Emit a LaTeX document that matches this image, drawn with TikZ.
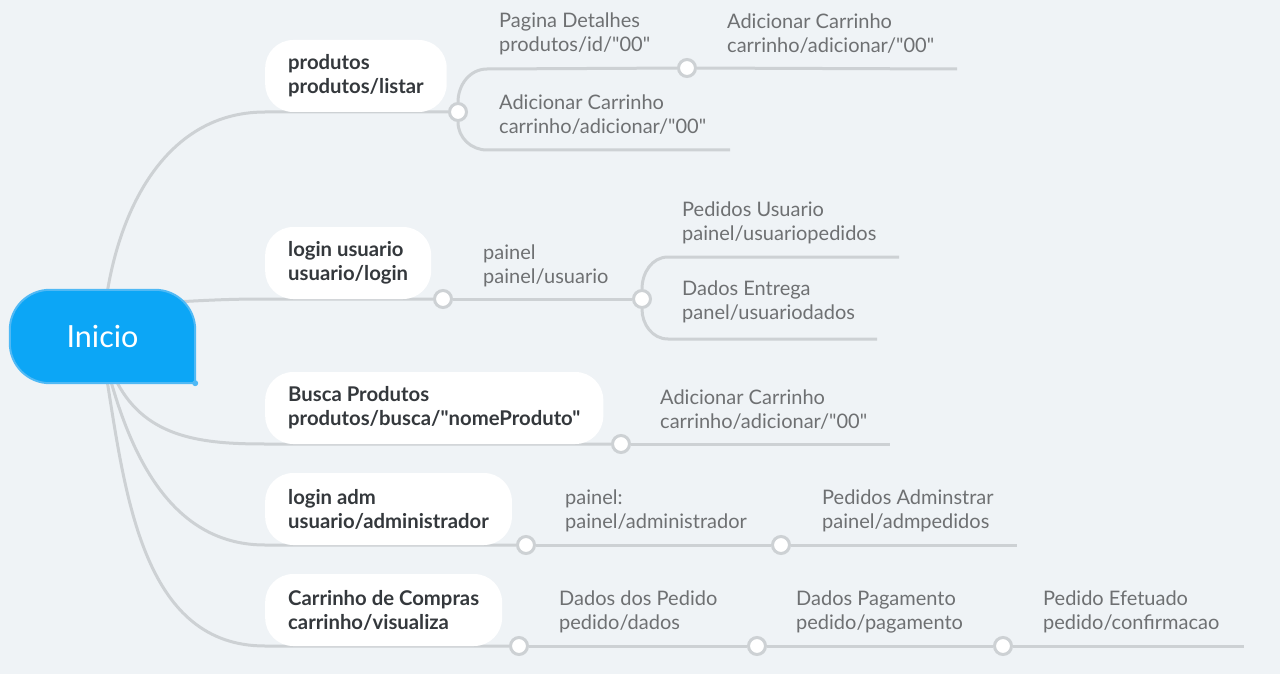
\documentclass[tikz,border=0pt]{standalone}
\usepackage{fontspec}
\setmainfont{Lato}[Ligatures=TeXOff]
\usetikzlibrary{positioning,backgrounds}
\definecolor{bgcol}{RGB}{239,243,246}
\definecolor{linecol}{RGB}{205,209,212}
\definecolor{leafcol}{RGB}{110,112,114}
\definecolor{maincol}{RGB}{52,56,60}
\definecolor{rootcol}{RGB}{12,166,246}
\definecolor{rootedge}{RGB}{80,185,245}
\tikzstyle{root}=[minimum width=185pt,minimum height=93pt,inner sep=0pt,text=white,font=\fontsize{30.5}{34}\selectfont]
\tikzstyle{mainbox}=[fill=white,rounded corners=28pt,minimum height=72pt,inner xsep=23pt,inner ysep=0pt,align=left,anchor=west,text=maincol,font=\fontsize{20.3}{24}\selectfont\bfseries]
\tikzstyle{leaf}=[inner sep=0pt,align=left,anchor=west,text=leafcol,font=\fontsize{20}{24}\selectfont]
\tikzstyle{knob}=[circle,fill=white,draw=linecol,line width=3pt,minimum size=17pt,inner sep=0pt]
\tikzstyle{branch}=[draw=linecol,line width=3pt]

\begin{document}
\begin{tikzpicture}[x=1pt,y=-1pt]
\useasboundingbox (0,0) rectangle (1280,674);

% root
\node[root] (inicio) at (102.5,336.5) {Inicio};

% main topics
\foreach \pos/\name/\txt in {{(265,76)/b1/{produtos\\produtos/listar}}, {(265,263)/b2/{login usuario\\usuario/login}}, {(265,408)/b3/{Busca Produtos\\produtos/busca/"nomeProduto"}}, {(265,509)/b4/{login adm\\usuario/administrador}}, {(265,610)/b5/{Carrinho de Compras\\carrinho/visualiza}}}
    \node[mainbox] (\name) at \pos {\txt};

% knobs
\foreach \pos/\name in {{(458,112)/c1}, {(687,68)/c11}, {(443,299)/c2}, {(642,299)/c21}, {(621,444)/c3}, {(526,545)/c4}, {(781,545)/c41}, {(519,646)/c5}, {(757,646)/c51}, {(1003,646)/c52}}
    \node[knob] (\name) at \pos {};

% subtopics
\foreach \pos/\name/\txt in {{(499,34)/t11/{Pagina Detalhes\\produtos/id/"00"}}, {(727,34)/t12/{Adicionar Carrinho\\carrinho/adicionar/"00"}}, {(499,115)/t13/{Adicionar Carrinho\\carrinho/adicionar/"00"}}, {(483,266)/t21/{painel\\painel/usuario}}, {(682,223)/t22/{Pedidos Usuario\\painel/usuariopedidos}}, {(682,302)/t23/{Dados Entrega\\panel/usuariodados}}, {(660,410)/t31/{Adicionar Carrinho\\carrinho/adicionar/"00"}}, {(565,511)/t41/{painel:\\painel/administrador}}, {(822,511)/t42/{Pedidos Adminstrar\\painel/admpedidos}}, {(559,612)/t51/{Dados dos Pedido\\pedido/dados}}, {(796,612)/t52/{Dados Pagamento\\pedido/pagamento}}, {(1043,612)/t53/{Pedido Efetuado\\pedido/confirmacao}}}
    \node[leaf] (\name) at \pos {\txt};

% line ends
\coordinate (f1u) at (487,69);
\coordinate (e11) at (957,69);
\coordinate (f1d) at (487,150);
\coordinate (e12) at (730,150);
\coordinate (f2u) at (668,257);
\coordinate (e21) at (899,257);
\coordinate (f2d) at (668,339);
\coordinate (e22) at (877,339);
\coordinate (e31) at (890,444);
\coordinate (e41) at (1017,545);
\coordinate (e51) at (1244,646);

\begin{scope}[on background layer]
  \fill[bgcol] (0,0) rectangle (1280,674);
  % from the root
  \path[branch] (inicio.center) to[out=87,in=180] (b1.west |- c1) -- (c1);
  \path[branch] ([xshift=-30pt,yshift=34pt]inicio.east) to[out=3,in=180] (b2.west |- c2) -- (c2);
  \path[branch] ([xshift=15pt]inicio.south) to[out=-62,in=180] (b3.west |- c3) -- (c3);
  \path[branch] ([xshift=9pt]inicio.south) to[out=-74,in=180] (b4.west |- c4) -- (c4);
  \path[branch] ([xshift=5pt]inicio.south) to[out=-81,in=180] (b5.west |- c5) -- (c5);
  % further out
  \path[branch] (c1) to[out=90,in=180] (f1u) -- (c11) -- (e11);
  \path[branch] (c1) to[out=-90,in=180] (f1d) -- (e12);
  \path[branch] (c2) -- (c21);
  \path[branch] (c21) to[out=90,in=180] (f2u) -- (e21);
  \path[branch] (c21) to[out=-90,in=180] (f2d) -- (e22);
  \path[branch] (c3) -- (e31);
  \path[branch] (c4) -- (c41) -- (e41);
  \path[branch] (c5) -- (c51) -- (c52) -- (e51);
  % root shape
  \filldraw[fill=rootcol,draw=rootedge,line width=2pt,rounded corners=40pt] (inicio.south east) -- (inicio.north east) -- (inicio.north west) -- (inicio.south west) -- (inicio.south east);
  \fill[rootedge] (inicio.south east) circle (3pt);
\end{scope}
\end{tikzpicture}
\end{document}
